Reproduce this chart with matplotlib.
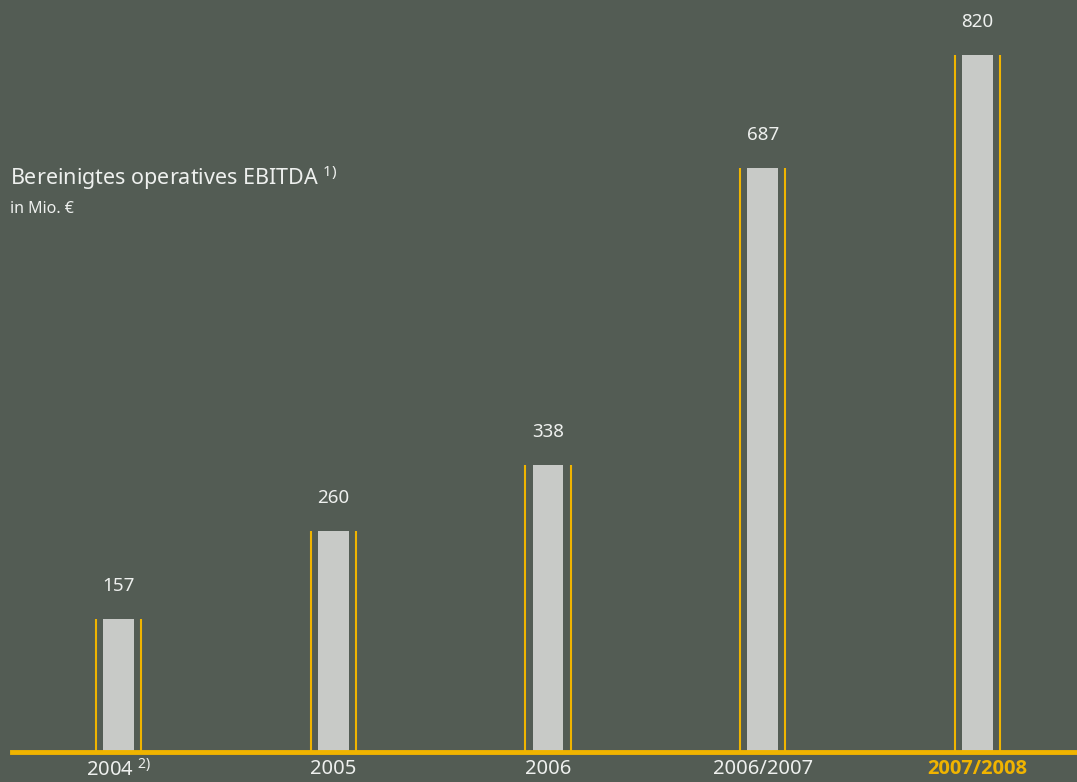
import matplotlib
matplotlib.use("Agg")
import matplotlib.pyplot as plt

# ---------------- DATA ----------------
years = ["2004", "2005", "2006", "2006/2007", "2007/2008"]
ebitda = [157, 260, 338, 687, 820]

# ---------------- STYLE ----------------
bg = "#535c54"
bar_col = "#c8cac7"
yellow = "#f0b400"
txt_col = "#eef0ee"

plt.rcParams["font.family"] = ["Noto Sans", "DejaVu Sans"]
plt.rcParams["mathtext.fontset"] = "custom"
plt.rcParams["mathtext.rm"] = "Noto Sans"
plt.rcParams["mathtext.it"] = "Noto Sans"

fig = plt.figure(figsize=(10.77, 7.82), dpi=100, facecolor=bg)
ax = fig.add_axes([0, 30 / 782, 1, 752 / 782])
ax.set_facecolor(bg)

x = list(range(len(years)))
ax.bar(x, ebitda, width=0.144, color=bar_col, zorder=2)

# yellow frame lines beside each bar
for xi, v in zip(x, ebitda):
    ax.vlines([xi - 0.105, xi + 0.105], 0, v, color=yellow, lw=1.5, zorder=2)
    ax.annotate(str(v), (xi, v), xytext=(0, 17), textcoords="offset points",
                ha="center", va="bottom", fontsize=13.5, color=txt_col)

ax.axhline(0, xmin=12 / 1077, xmax=1, color=yellow, lw=3.5, zorder=3,
           clip_on=False)

ax.set_xlim(-0.5518, 4.4633)
ax.set_ylim(0, 884.7)

ax.set_xticks(x)
labels = ["2004 $^{2)}$"] + years[1:]
ax.set_xticklabels(labels, fontsize=14.5, color=txt_col)
ax.tick_params(axis="x", length=0, pad=5)
last = ax.get_xticklabels()[-1]
last.set_color(yellow)
last.set_fontfamily(["Open Sans", "DejaVu Sans"])
last.set_fontweight("bold")
ax.set_yticks([])
for s in ax.spines.values():
    s.set_visible(False)

fig.text(10 / 1077, 1 - 178 / 782, "Bereinigtes operatives EBITDA $^{1)}$",
         fontsize=15.5, color=txt_col, va="center", ha="left")
fig.text(10 / 1077, 1 - 209 / 782, "in Mio. €", fontsize=11.5, color=txt_col,
         va="center", ha="left")

fig.savefig("out.png", dpi=100, facecolor=bg)
